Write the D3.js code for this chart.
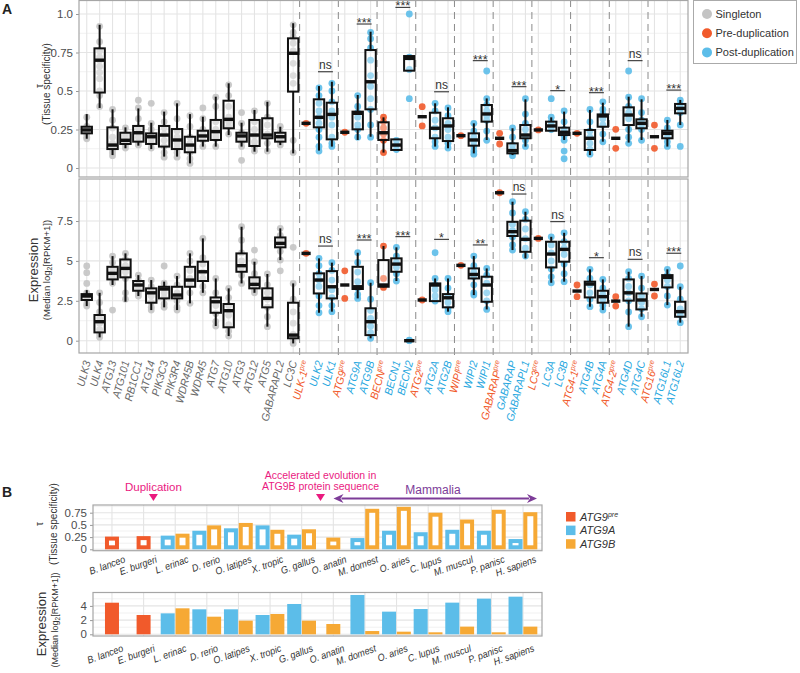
<!DOCTYPE html>
<html>
<head>
<meta charset="utf-8">
<script src="https://d3js.org/d3.v7.min.js"></script>
<style>
body { margin: 0; background: #fff; }
text { font-family: "Liberation Sans", Arial, sans-serif; }
</style>
</head>
<body>
<svg id="fig" width="800" height="673"></svg>
<script>
// ---------- panel A data ----------
var genes = ["ULK3","ULK4","ATG13","ATG101","RB1CC1","ATG14","PIK3C3","PIK3R4","WDR45B","WDR45",
  "ATG7","ATG10","ATG3","ATG12","ATG5","GABARAPL2","LC3C",
  "ULK-1pre","ULK2","ULK1","ATG9pre","ATG9A","ATG9B","BECNpre","BECN1","BECN2",
  "ATG2pre","ATG2A","ATG2B","WIPIpre","WIPI2","WIPI1","GABARAPpre","GABARAP","GABARAPL1",
  "LC3pre","LC3A","LC3B","ATG4-1pre","ATG4B","ATG4A","ATG4-2pre","ATG4D","ATG4C",
  "ATG16pre","ATG16L1","ATG16L2"];

// [lower whisker, Q1, median, Q3, upper whisker]
var tauBox = [
  [0.19,0.225,0.247,0.268,0.35],[0.39,0.49,0.70,0.777,0.93],[0.084,0.123,0.149,0.264,0.381],
  [0.128,0.156,0.18,0.229,0.264],[0.145,0.171,0.229,0.273,0.387],[0.123,0.156,0.203,0.225,0.294],
  [0.074,0.139,0.214,0.273,0.366],[0.074,0.123,0.182,0.253,0.42],[0.03,0.102,0.149,0.203,0.35],
  [0.139,0.177,0.208,0.242,0.333],[0.139,0.182,0.236,0.312,0.463],[0.214,0.258,0.316,0.437,0.55],
  [0.139,0.171,0.208,0.229,0.294],[0.106,0.143,0.214,0.312,0.377],[0.106,0.193,0.214,0.323,0.43],
  [0.149,0.171,0.203,0.229,0.268],[0.095,0.496,0.745,0.842,0.94],
  [0.29,0.29,0.29,0.29,0.29],[0.113,0.264,0.329,0.446,0.532],[0.139,0.186,0.348,0.424,0.56],
  [0.232,0.232,0.232,0.232,0.232],[0.182,0.251,0.355,0.366,0.474],[0.203,0.381,0.56,0.766,0.885],
  [0.1,0.182,0.229,0.297,0.329],[0.117,0.117,0.149,0.186,0.186],[0.632,0.632,0.712,0.727,0.727],
  [0.333,0.333,0.333,0.333,0.333],[0.139,0.193,0.258,0.359,0.42],[0.128,0.175,0.273,0.323,0.394],
  [0.21,0.21,0.21,0.21,0.21],[0.095,0.145,0.182,0.225,0.29],[0.182,0.301,0.351,0.409,0.452],
  [0.193,0.193,0.193,0.193,0.193],[0.084,0.095,0.113,0.16,0.258],[0.139,0.193,0.214,0.279,0.446],
  [0.247,0.247,0.247,0.247,0.247],[0.242,0.242,0.273,0.301,0.329],[0.182,0.214,0.232,0.262,0.366],
  [0.225,0.225,0.225,0.225,0.225],[0.084,0.117,0.193,0.247,0.377],[0.171,0.268,0.338,0.348,0.424],
  [0.193,0.193,0.193,0.193,0.193],[0.165,0.279,0.344,0.394,0.463],[0.182,0.258,0.29,0.316,0.446],
  [0.203,0.203,0.203,0.203,0.203],[0.139,0.193,0.225,0.242,0.312],[0.279,0.355,0.387,0.416,0.442]
];

var tauPts = [
  [0.33,0.27,0.25,0.24,0.22,0.2,0.19],[0.92,0.82,0.76,0.72,0.7,0.66,0.62,0.58,0.5,0.47,0.4],
  [0.38,0.31,0.26,0.2,0.16,0.14,0.12,0.1,0.08],[0.26,0.22,0.2,0.17,0.15,0.13],
  [0.44,0.39,0.32,0.26,0.23,0.2,0.17,0.15],[0.42,0.29,0.25,0.21,0.19,0.16,0.13],
  [0.36,0.3,0.26,0.22,0.18,0.14,0.1,0.07],[0.42,0.32,0.24,0.2,0.16,0.13,0.1,0.07],
  [0.34,0.27,0.2,0.16,0.13,0.1,0.06,0.03],[0.39,0.32,0.25,0.22,0.2,0.18,0.14],
  [0.46,0.4,0.3,0.25,0.21,0.19,0.14],[0.54,0.47,0.4,0.33,0.3,0.27,0.22],
  [0.36,0.29,0.23,0.21,0.19,0.17,0.14,0.05],[0.37,0.3,0.25,0.21,0.17,0.14,0.11],
  [0.42,0.33,0.28,0.22,0.2,0.16,0.11],[0.27,0.23,0.21,0.19,0.17,0.15],
  [0.93,0.88,0.85,0.81,0.76,0.68,0.6,0.55,0.18,0.1],
  [0.29],[0.52,0.47,0.42,0.37,0.33,0.29,0.25,0.2,0.14,0.11],[0.55,0.5,0.43,0.37,0.33,0.28,0.2,0.16,0.14],
  [0.232],[0.47,0.4,0.36,0.33,0.28,0.25,0.2],[0.88,0.84,0.78,0.7,0.6,0.53,0.45,0.38,0.28,0.2],
  [0.33,0.3,0.26,0.22,0.18,0.1],[0.18,0.15,0.12],[1.0,0.72,0.64,0.45],
  [0.398,0.273],[0.42,0.37,0.31,0.26,0.2,0.17,0.14],[0.39,0.34,0.29,0.25,0.2,0.16,0.13],
  [0.21],[0.29,0.24,0.2,0.17,0.14,0.11,0.09],[0.63,0.45,0.41,0.37,0.34,0.31,0.24,0.18],
  [0.225,0.156],[0.26,0.2,0.15,0.12,0.1,0.08],[0.45,0.35,0.29,0.25,0.21,0.18,0.14],
  [0.247],[0.45,0.33,0.3,0.28,0.25],[0.37,0.3,0.25,0.23,0.21,0.18,0.11,0.06],
  [0.225],[0.38,0.3,0.24,0.2,0.16,0.12,0.09],[0.43,0.38,0.35,0.32,0.28,0.22,0.17],
  [0.251,0.128],[0.63,0.46,0.4,0.36,0.32,0.25,0.2,0.16],[0.45,0.36,0.31,0.28,0.25,0.18],
  [0.279,0.128],[0.31,0.26,0.23,0.2,0.17,0.14],[0.44,0.41,0.39,0.36,0.28,0.14]
];

var expBox = [
  [2.17,2.55,2.8,2.92,3.17],[0.21,0.52,1.19,1.61,3.0],[3.49,3.84,4.22,4.63,5.3],
  [2.44,3.97,4.53,5.09,5.47],[2.8,3.13,3.49,3.74,4.11],[1.92,2.38,3.0,3.28,3.8],
  [2.09,2.65,3.24,3.38,3.7],[1.92,2.65,2.86,3.38,4.05],[2.34,3.38,3.8,4.63,5.47],
  [3.0,3.74,4.32,4.95,6.41],[0.92,1.75,2.44,2.71,3.9],[0.29,0.84,1.88,2.3,3.28],
  [3.59,4.32,4.7,5.47,7.14],[3.0,3.28,3.53,3.97,4.95],[0.88,2.09,2.65,3.28,4.18],
  [5.05,5.85,6.1,6.47,7.04],[-0.17,0.15,0.35,2.38,3.59],
  [5.47,5.47,5.47,5.47,5.47],[1.75,2.96,3.8,4.22,5.16],[1.82,2.65,3.38,4.36,4.89],
  [3.49,3.49,3.49,3.49,3.49],[2.65,3.24,3.38,4.63,5.51],[0.15,0.35,1.19,2.03,3.63],
  [3.34,3.38,3.49,5.05,5.93],[3.74,4.32,4.8,5.16,5.85],[0,0,0,0,0],
  [2.55,2.55,2.55,2.55,2.55],[2.48,2.48,3.49,3.59,3.9],[1.82,2.09,2.69,2.92,3.9],
  [4.72,4.72,4.72,4.72,4.72],[2.86,3.9,4.15,4.53,5.3],[1.96,2.44,3.49,4.01,4.53],
  [9.27,9.27,9.27,9.27,9.27],[5.68,6.56,6.83,7.45,8.71],[5.16,5.57,6.35,7.52,8.08],
  [6.41,6.41,6.41,6.41,6.41],[3.63,4.59,5.43,6.2,6.51],[3.7,4.95,5.72,6.2,6.76],
  [3.11,3.11,3.11,3.11,3.11],[2.13,2.71,3.55,3.7,4.47],[1.92,2.38,2.76,3.13,3.84],
  [2.48,2.48,2.48,2.48,2.48],[0.88,2.51,3.0,3.84,4.32],[1.5,1.96,2.55,2.96,4.05],
  [3.21,3.21,3.21,3.21,3.21],[2.23,3.34,3.97,4.11,4.47],[1.13,1.5,1.82,2.44,3.38]
];

var expPts = [
  [4.68,4.26,3.59,3.0,2.8,2.6,2.3,2.17],[3.0,2.4,1.8,1.4,1.1,0.7,0.4,0.21],[5.3,4.9,4.5,4.2,3.9,3.6,1.92],
  [5.47,5.1,4.7,4.3,3.9,3.0,2.6],[4.11,3.8,3.5,3.3,3.0,2.8],[3.8,3.4,3.1,2.8,2.4,2.1,1.92],
  [4.68,3.6,3.3,3.0,2.7,2.3,2.09],[4.05,3.5,3.0,2.8,2.5,2.1,1.92],[5.47,5.0,4.4,3.9,3.5,3.0,2.34],
  [6.41,5.2,4.8,4.3,3.9,3.4,3.0],[3.9,3.0,2.6,2.2,1.7,1.2,0.92],[3.28,2.7,2.2,1.6,1.0,0.6,0.29],
  [7.14,6.3,5.5,5.0,4.6,4.1,3.59],[5.68,4.95,4.2,3.8,3.5,3.2,3.0],[4.18,3.5,3.0,2.6,2.1,1.5,0.88],
  [7.04,6.6,6.3,6.0,5.6,5.05,4.38],[5.85,3.59,2.6,1.8,1.1,0.4,0.1,-0.17],
  [5.47],[5.16,4.7,4.2,3.8,3.4,2.8,2.2,1.75],[4.89,4.4,3.8,3.2,2.7,2.2,1.82],
  [4.38,2.65],[5.51,4.9,4.3,3.7,3.3,2.9,2.65],[3.63,2.6,1.9,1.4,0.9,0.5,0.15],
  [5.93,3.9,3.34],[5.85,5.3,4.9,4.6,4.2,3.74],[0,0.03],
  [2.55],[5.51,3.9,3.5,3.2,2.8,2.48],[3.9,3.3,2.8,2.4,2.0,1.82],
  [4.72],[5.3,4.7,4.3,4.0,3.5,3.0,2.86],[4.53,4.1,3.6,3.0,2.5,1.96],
  [9.27],[8.71,8.0,7.3,6.9,6.5,6.0,5.68],[8.08,7.6,7.0,6.4,5.8,5.3],
  [6.41],[6.51,6.0,5.5,5.0,4.5,4.0,3.63],[6.76,6.2,5.8,5.4,4.8,4.2,3.7],
  [3.49,2.76],[4.47,3.9,3.5,3.0,2.6,2.13],[3.84,3.3,2.9,2.6,2.2,1.92],
  [2.76,2.17],[4.32,3.9,3.4,3.0,2.5,1.8,0.88],[4.05,3.3,2.8,2.4,2.0,1.5],
  [3.55,2.8],[4.47,4.1,3.8,3.4,2.8,2.23],[4.68,3.38,2.6,2.0,1.6,1.13]
];

// significance brackets: [gene 1, gene 2, label, height]
var tauSig = [["ULK2","ULK1","ns",0.625],["ATG9A","ATG9B","***",0.935],["BECN1","BECN2","***",1.043],
  ["ATG2A","ATG2B","ns",0.495],["WIPI2","WIPI1","***",0.697],["GABARAP","GABARAPL1","***",0.528],
  ["LC3A","LC3B","*",0.502],["ATG4B","ATG4A","***",0.489],["ATG4D","ATG4C","ns",0.697],
  ["ATG16L1","ATG16L2","***",0.506]];
var expSig = [["ULK2","ULK1","ns",5.93],["ATG9A","ATG9B","***",6.31],["BECN1","BECN2","***",6.52],
  ["ATG2A","ATG2B","*",6.35],["WIPI2","WIPI1","**",6.0],["GABARAP","GABARAPL1","ns",9.19],
  ["LC3A","LC3B","ns",7.46],["ATG4B","ATG4A","*",5.2],["ATG4D","ATG4C","ns",5.1],
  ["ATG16L1","ATG16L2","***",5.48]];

var tauTicks = [0, 0.25, 0.5, 0.75, 1];
var tauMinor = [0.125, 0.375, 0.625, 0.875];
var expTicks = [0, 2.5, 5, 7.5];
var expMinor = [1.25, 3.75, 6.25, 8.75];

// ---------- panel B data ----------
var species = ["B. lanceo","E. burgeri","L. erinac","D. rerio","O. latipes","X. tropic","G. gallus",
  "O. anatin","M. domest","O. aries","C. lupus","M. muscul","P. panisc","H. sapiens"];
var tauPre = [0.26,0.27,null,null,null,null,null,null,null,null,null,null,null,null];
var tauA   = [null,null,0.28,0.38,0.43,0.49,0.30,null,0.23,0.38,0.35,0.40,0.38,0.21];
var tauB   = [null,null,0.32,0.49,0.54,0.40,0.41,0.24,0.83,0.87,0.75,0.61,0.81,0.76];
var expPre = [4.45,2.72,null,null,null,null,null,null,null,null,null,null,null,null];
var expA   = [null,null,2.95,3.52,3.52,2.72,4.27,null,5.54,3.19,3.56,4.46,5.02,5.3];
var expB   = [null,null,3.66,2.48,1.92,2.86,1.92,1.45,0.46,0.37,0.28,1.08,0.28,1.08];
var bTauTicks = [0, 0.25, 0.5, 0.75];
var bTauMinor = [0.125, 0.375, 0.625, 0.875];
var bExpTicks = [0, 2, 4];
var bExpMinor = [1, 3, 5];

// ---------- drawing ----------
var svg = d3.select("#fig");
var RED = "#f15a2b", BLUE = "#5cbde9", GREY = "#c4c4c4", ORANGE = "#f6a935";
var GRID = "#e4e4e4", GRIDMIN = "#f1f1f1", BORDER = "#a6a6a6", TXT = "#4d4d4d";

var xA = d3.scalePoint().domain(genes).range([79, 688]).padding(0.6);
function kind(i) { return i < 17 ? "s" : (genes[i].slice(-3) === "pre" ? "p" : "d"); }
var ptCol = { s: GREY, p: RED, d: BLUE };
var lblCol = { s: "#6a6a6a", p: RED, d: "#2aa8e0" };

var yTau = d3.scaleLinear().domain([0, 1]).range([168, 14]);
var yExp = d3.scaleLinear().domain([0, 7.5]).range([340.7, 221]);

var panels = [
  { y: yTau, top: 0.5, bot: 177, ticks: tauTicks, minor: tauMinor, box: tauBox, pts: tauPts, sig: tauSig,
    fmt: function(d) { return d === 1 ? "1.0" : String(d); } },
  { y: yExp, top: 179, bot: 353, ticks: expTicks, minor: expMinor, box: expBox, pts: expPts, sig: expSig,
    fmt: function(d) { return String(d); } }
];

// grids
panels.forEach(function(p) {
  var g = svg.append("g");
  g.selectAll(".mn").data(p.minor).enter().append("line")
    .attr("x1", 79).attr("x2", 688).attr("y1", function(d) { return p.y(d); }).attr("y2", function(d) { return p.y(d); })
    .attr("stroke", GRIDMIN).attr("stroke-width", 1);
  g.selectAll(".mj").data(p.ticks).enter().append("line")
    .attr("x1", 79).attr("x2", 688).attr("y1", function(d) { return p.y(d); }).attr("y2", function(d) { return p.y(d); })
    .attr("stroke", GRID).attr("stroke-width", 1.1);
  g.selectAll(".vx").data(genes).enter().append("line")
    .attr("x1", function(d) { return xA(d); }).attr("x2", function(d) { return xA(d); })
    .attr("y1", p.top).attr("y2", p.bot).attr("stroke", GRID).attr("stroke-width", 1.1);
  var ax = svg.append("g").attr("transform", "translate(79,0)")
    .call(d3.axisLeft(p.y).tickValues(p.ticks).tickFormat(p.fmt).tickSize(3));
  ax.select(".domain").remove();
  ax.selectAll("line").attr("stroke", "#999");
  ax.selectAll("text").attr("fill", TXT).attr("font-size", 11.5).attr("font-family", "Liberation Sans, Arial, sans-serif");
});

// group separators
var seps = [];
genes.forEach(function(gn, i) {
  if (i >= 17 && kind(i) === "p") seps.push(xA(gn) - xA.step() / 2);
});
svg.selectAll(".sep").data(seps).enter().append("line")
  .attr("x1", function(d) { return d; }).attr("x2", function(d) { return d; })
  .attr("y1", 0).attr("y2", 357)
  .attr("stroke", "#8a8a8a").attr("stroke-width", 1).attr("stroke-dasharray", "7,5");

// boxes
var bw = 5.2;
panels.forEach(function(p) {
  var g = svg.append("g");
  genes.forEach(function(gn, i) {
    var x = xA(gn), b = p.box[i], k = kind(i);
    g.selectAll(null).data(p.pts[i]).enter().append("circle")
      .attr("cx", x).attr("cy", function(d) { return p.y(d); }).attr("r", 3.4)
      .attr("fill", ptCol[k]).attr("fill-opacity", 0.9);
    if (b[3] > b[1]) {
      g.append("line").attr("x1", x).attr("x2", x).attr("y1", p.y(b[0])).attr("y2", p.y(b[1]))
        .attr("stroke", "#111").attr("stroke-width", 2);
      g.append("line").attr("x1", x).attr("x2", x).attr("y1", p.y(b[3])).attr("y2", p.y(b[4]))
        .attr("stroke", "#111").attr("stroke-width", 2);
      g.append("rect").attr("x", x - bw).attr("width", 2 * bw)
        .attr("y", p.y(b[3])).attr("height", p.y(b[1]) - p.y(b[3]))
        .attr("fill", "#fff").attr("fill-opacity", 0.35).attr("stroke", "#111").attr("stroke-width", 2);
    }
    g.append("line").attr("x1", x - (k === "p" ? 4.6 : bw)).attr("x2", x + (k === "p" ? 4.6 : bw))
      .attr("y1", p.y(b[2])).attr("y2", p.y(b[2]))
      .attr("stroke", "#111").attr("stroke-width", 3.4);
  });
  // significance
  p.sig.forEach(function(s) {
    var x1 = xA(s[0]) - 1, x2 = xA(s[1]) + 1, yy = p.y(s[3]);
    g.append("line").attr("x1", x1).attr("x2", x2).attr("y1", yy).attr("y2", yy)
      .attr("stroke", "#333").attr("stroke-width", 1.1);
    g.append("text").attr("x", (x1 + x2) / 2).attr("y", s[2] === "ns" ? yy - 3 : yy + 3)
      .attr("text-anchor", "middle").attr("font-size", s[2] === "ns" ? 12 : 12.5).attr("fill", "#333")
      .text(s[2]);
  });
  svg.append("rect").attr("x", 79).attr("y", p.top).attr("width", 609).attr("height", p.bot - p.top)
    .attr("fill", "none").attr("stroke", BORDER).attr("stroke-width", 1.2);
});

// x labels for A
genes.forEach(function(gn, i) {
  var k = kind(i);
  var t = svg.append("text")
    .attr("transform", "translate(" + (xA(gn) + 4) + ",362) rotate(-75) scale(0.95,1)")
    .attr("text-anchor", "end").attr("font-size", 11).attr("font-style", "italic")
    .attr("fill", lblCol[k]);
  if (k === "p") {
    t.append("tspan").text(gn.slice(0, -3));
    t.append("tspan").attr("font-size", 7.5).attr("dy", -4).text("pre");
  } else {
    t.text(gn);
  }
});

// y titles A
svg.append("text").attr("transform", "translate(43,86) rotate(-90)").attr("text-anchor", "middle")
  .attr("font-size", 10).attr("fill", "#333").text("\u03c4");
svg.append("text").attr("transform", "translate(50,84) rotate(-90)").attr("text-anchor", "middle")
  .attr("font-size", 10).attr("fill", "#333").text("(Tissue specificity)");
svg.append("text").attr("transform", "translate(38,270) rotate(-90)").attr("text-anchor", "middle")
  .attr("font-size", 13).attr("fill", "#333").text("Expression");
var mt = svg.append("text").attr("transform", "translate(50,270) rotate(-90)").attr("text-anchor", "middle")
  .attr("font-size", 9.5).attr("fill", "#333");
mt.append("tspan").text("(Median log");
mt.append("tspan").attr("font-size", 7).attr("dy", 2).text("2");
mt.append("tspan").attr("dy", -2).text("[RPKM+1])");

// legend A
var legA = [["Singleton", GREY], ["Pre-duplication", RED], ["Post-duplication", BLUE]];
svg.append("rect").attr("x", 693.5).attr("y", 0.5).attr("width", 103).attr("height", 63)
  .attr("fill", "#fff").attr("stroke", "#aaa");
legA.forEach(function(l, i) {
  svg.append("circle").attr("cx", 707).attr("cy", 14 + i * 19.2).attr("r", 5).attr("fill", l[1]);
  svg.append("text").attr("x", 715.5).attr("y", 18 + i * 19.2).attr("font-size", 11).attr("fill", "#333").text(l[0]);
});

svg.append("text").attr("x", 2).attr("y", 14).attr("font-size", 14).attr("font-weight", "bold").attr("fill", "#222").text("A");
svg.append("text").attr("x", 2).attr("y", 497).attr("font-size", 14).attr("font-weight", "bold").attr("fill", "#222").text("B");

// ---------- panel B ----------
var xB = d3.scalePoint().domain(species).range([93, 542]).padding(0.6);
var yBt = d3.scaleLinear().domain([0, 0.75]).range([549.3, 512.7]);
var yBe = d3.scaleLinear().domain([0, 4]).range([634.3, 605.9]);
var bPanels = [
  { y: yBt, top: 505, bot: 550.7, ticks: bTauTicks, minor: bTauMinor, pre: tauPre, a: tauA, b: tauB, outline: true, ly: 562, lx: 14 },
  { y: yBe, top: 592.5, bot: 636, ticks: bExpTicks, minor: bExpMinor, pre: expPre, a: expA, b: expB, outline: false, ly: 651, lx: 12 }
];
bPanels.forEach(function(p) {
  var g = svg.append("g");
  g.selectAll(".mn").data(p.minor).enter().append("line")
    .attr("x1", 93).attr("x2", 542).attr("y1", function(d) { return p.y(d); }).attr("y2", function(d) { return p.y(d); })
    .attr("stroke", GRIDMIN);
  g.selectAll(".mj").data(p.ticks).enter().append("line")
    .attr("x1", 93).attr("x2", 542).attr("y1", function(d) { return p.y(d); }).attr("y2", function(d) { return p.y(d); })
    .attr("stroke", GRID).attr("stroke-width", 1.1);
  g.selectAll(".vx").data(species).enter().append("line")
    .attr("x1", function(d) { return xB(d); }).attr("x2", function(d) { return xB(d); })
    .attr("y1", p.top).attr("y2", p.bot).attr("stroke", GRID).attr("stroke-width", 1.1);
  var ax = svg.append("g").attr("transform", "translate(93,0)")
    .call(d3.axisLeft(p.y).tickValues(p.ticks).tickFormat(function(d) { return String(d); }).tickSize(3));
  ax.select(".domain").remove();
  ax.selectAll("line").attr("stroke", "#999");
  ax.selectAll("text").attr("fill", TXT).attr("font-size", 11.5).attr("font-family", "Liberation Sans, Arial, sans-serif");

  species.forEach(function(sp, i) {
    var c = xB(sp);
    var bars = [];
    if (p.pre[i] != null) bars.push({ v: p.pre[i], col: RED });
    if (p.a[i] != null) bars.push({ v: p.a[i], col: BLUE });
    if (p.b[i] != null) bars.push({ v: p.b[i], col: ORANGE });
    bars.forEach(function(d, j) {
      var x0 = bars.length === 1 ? c - 7 : (j === 0 ? c - 14.5 : c + 0.3);
      var w = 14, y0 = p.y(0), y1 = p.y(d.v);
      if (p.outline) {
        g.append("rect").attr("x", x0 + 2).attr("y", y1 + 2).attr("width", w - 4).attr("height", Math.max(0, y0 - y1 - 4))
          .attr("fill", "#fff").attr("stroke", d.col).attr("stroke-width", 4);
      } else {
        g.append("rect").attr("x", x0).attr("y", y1).attr("width", w).attr("height", y0 - y1)
          .attr("fill", d.col);
      }
    });
    svg.append("text")
      .attr("transform", "translate(" + (c + p.lx) + "," + p.ly + ") rotate(-20) scale(0.9,1)")
      .attr("text-anchor", "end").attr("font-size", 10).attr("font-style", "italic").attr("fill", "#333")
      .text(sp);
  });
  svg.append("rect").attr("x", 93).attr("y", p.top).attr("width", 449).attr("height", p.bot - p.top)
    .attr("fill", "none").attr("stroke", BORDER).attr("stroke-width", 1.2);
});

// y titles B
svg.append("text").attr("transform", "translate(43,524) rotate(-90)").attr("text-anchor", "middle")
  .attr("font-size", 10).attr("fill", "#333").text("\u03c4");
svg.append("text").attr("transform", "translate(57,524) rotate(-90)").attr("text-anchor", "middle")
  .attr("font-size", 10).attr("fill", "#333").text("(Tissue specificity)");
svg.append("text").attr("transform", "translate(46,624) rotate(-90)").attr("text-anchor", "middle")
  .attr("font-size", 13).attr("fill", "#333").text("Expression");
var mt2 = svg.append("text").attr("transform", "translate(58,620) rotate(-90)").attr("text-anchor", "middle")
  .attr("font-size", 9).attr("fill", "#333");
mt2.append("tspan").text("(Median log");
mt2.append("tspan").attr("font-size", 6.5).attr("dy", 2).text("2");
mt2.append("tspan").attr("dy", -2).text("[RPKM+1])");

// annotations B
var MAG = "#ea1a7f", PUR = "#7d3c98";
var dupX = (xB("E. burgeri") + xB("L. erinac")) / 2 - 6;
var accX = (xB("G. gallus") + xB("O. anatin")) / 2 + 3;
svg.append("text").attr("x", dupX).attr("y", 491).attr("text-anchor", "middle").attr("font-size", 11.5)
  .attr("fill", MAG).text("Duplication");
svg.append("text").attr("x", accX).attr("y", 479).attr("text-anchor", "middle").attr("font-size", 10.5)
  .attr("fill", MAG).text("Accelerated evolution in");
svg.append("text").attr("x", accX).attr("y", 490).attr("text-anchor", "middle").attr("font-size", 10.5)
  .attr("fill", MAG).text("ATG9B protein sequence");
[dupX, accX].forEach(function(x) {
  svg.append("path").attr("d", "M" + (x - 4.5) + ",494 L" + (x + 4.5) + ",494 L" + x + ",501 Z").attr("fill", MAG);
});
var arL = accX + 13, arR = 537, arY = 498.5;
svg.append("line").attr("x1", arL + 8).attr("x2", arR - 8).attr("y1", arY).attr("y2", arY)
  .attr("stroke", PUR).attr("stroke-width", 2);
svg.append("path").attr("d", "M" + arL + "," + arY + " L" + (arL + 10) + "," + (arY - 4.5) + " L" + (arL + 7) + "," + arY + " L" + (arL + 10) + "," + (arY + 4.5) + " Z").attr("fill", PUR);
svg.append("path").attr("d", "M" + arR + "," + arY + " L" + (arR - 10) + "," + (arY - 4.5) + " L" + (arR - 7) + "," + arY + " L" + (arR - 10) + "," + (arY + 4.5) + " Z").attr("fill", PUR);
svg.append("text").attr("x", 433).attr("y", 494).attr("text-anchor", "middle").attr("font-size", 12)
  .attr("fill", PUR).text("Mammalia");

// legend B
var legB = [["ATG9", "pre", RED], ["ATG9A", "", BLUE], ["ATG9B", "", ORANGE]];
legB.forEach(function(l, i) {
  svg.append("rect").attr("x", 566).attr("y", 512 + i * 13.6).attr("width", 9.5).attr("height", 9.5).attr("fill", l[2]);
  var t = svg.append("text").attr("x", 580).attr("y", 520.5 + i * 13.6).attr("font-size", 11)
    .attr("font-style", "italic").attr("fill", "#333");
  t.append("tspan").text(l[0]);
  if (l[1]) t.append("tspan").attr("font-size", 7).attr("dy", -4).text(l[1]);
});
</script>
</body>
</html>
